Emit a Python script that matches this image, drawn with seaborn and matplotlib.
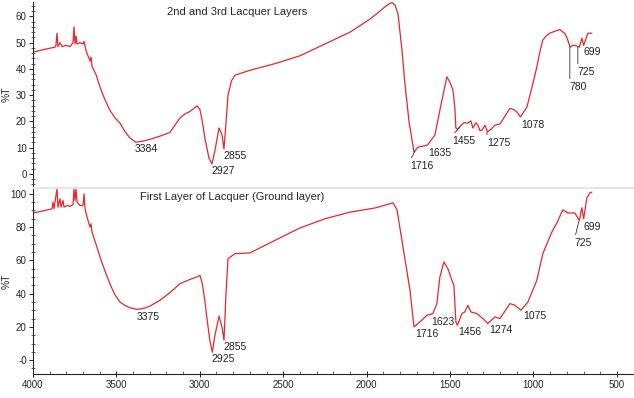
import numpy as np
import pandas as pd
import matplotlib
matplotlib.use('Agg')
import matplotlib.pyplot as plt
from matplotlib.ticker import MultipleLocator, FixedLocator, FixedFormatter
import seaborn as sns

# upper spectrum: 2nd and 3rd lacquer layers
wn_top = [4000, 3928, 3868, 3862, 3856, 3850, 3838, 3826, 3802, 3778, 3760, 3754, 3748,
          3742, 3736, 3718, 3700, 3694, 3682, 3670, 3658, 3652, 3646, 3620, 3598, 3570,
          3539, 3510, 3479, 3450, 3420, 3384, 3340, 3299, 3239, 3179, 3150, 3119, 3090,
          3059, 3035, 3017, 2999, 2985, 2969, 2945, 2927, 2909, 2885, 2867, 2855, 2843,
          2831, 2810, 2789, 2699, 2550, 2400, 2250, 2100, 1980, 1920, 1890, 1865, 1848,
          1830, 1812, 1788, 1771, 1746, 1716, 1693, 1663, 1635, 1591, 1549, 1519, 1501,
          1483, 1471, 1465, 1455, 1441, 1417, 1393, 1375, 1363, 1345, 1333, 1321, 1309,
          1291, 1275, 1255, 1231, 1201, 1171, 1141, 1117, 1099, 1078, 1039, 1009, 980,
          960, 944, 920, 902, 870, 842, 812, 800, 780, 764, 752, 725, 710, 699, 674, 650]
t_top = [46.4, 47.5, 48.3, 49.0, 53.6, 48.5, 50.0, 48.5, 49.0, 48.5, 50.0, 56.0, 49.5,
         52.5, 49.5, 50.0, 49.5, 50.5, 47.0, 45.0, 43.0, 44.5, 41.0, 37.5, 33.0, 28.5,
         24.3, 21.5, 19.4, 16.3, 13.8, 12.1, 12.5, 13.2, 14.4, 15.8, 18.5, 21.3, 22.8,
         23.8, 25.0, 25.9, 24.5, 20.0, 13.5, 6.0, 3.8, 9.0, 17.5, 15.0, 9.5, 19.4,
         30.0, 35.5, 37.6, 39.5, 42.0, 45.0, 49.5, 54.0, 59.0, 62.0, 63.7, 64.8, 65.3,
         64.3, 61.0, 47.0, 34.6, 20.0, 8.3, 10.2, 10.6, 11.0, 14.8, 28.0, 37.0, 35.0,
         32.0, 25.0, 17.5, 17.0, 18.0, 19.5, 19.4, 20.2, 17.5, 19.5, 18.6, 16.5, 16.7,
         18.5, 16.0, 17.0, 18.6, 19.0, 22.0, 25.0, 24.5, 23.6, 21.7, 25.5, 33.0, 40.7,
         47.0, 51.0, 52.8, 53.6, 54.4, 55.0, 53.5, 52.0, 48.3, 49.0, 49.0, 48.3, 51.7,
         49.0, 53.6, 53.6]

# lower spectrum: first (ground) layer
wn_bot = [4000, 3928, 3886, 3880, 3874, 3856, 3850, 3838, 3832, 3820, 3814, 3796, 3778,
          3760, 3754, 3748, 3742, 3736, 3718, 3700, 3694, 3688, 3676, 3670, 3658, 3652,
          3646, 3620, 3598, 3570, 3539, 3510, 3479, 3450, 3420, 3375, 3330, 3299, 3239,
          3180, 3119, 3060, 3017, 2999, 2985, 2970, 2957, 2940, 2925, 2909, 2885, 2867,
          2855, 2843, 2831, 2789, 2699, 2550, 2400, 2250, 2100, 1950, 1842, 1818, 1782,
          1740, 1716, 1681, 1639, 1603, 1579, 1561, 1537, 1513, 1489, 1477, 1465, 1456,
          1429, 1411, 1393, 1375, 1339, 1303, 1274, 1231, 1201, 1141, 1111, 1075, 1033,
          980, 944, 890, 860, 824, 794, 752, 725, 710, 699, 680, 662, 650]
t_bot = [88.5, 90.0, 91.0, 95.0, 91.0, 103.0, 92.0, 97.0, 92.0, 96.0, 92.0, 93.0, 92.5,
         93.5, 103.0, 96.0, 103.0, 95.0, 93.0, 93.0, 100.0, 91.0, 86.0, 84.0, 80.0, 82.0,
         77.0, 69.0, 62.0, 54.0, 46.0, 39.5, 35.0, 33.0, 31.5, 30.5, 31.3, 32.5, 36.0,
         40.5, 46.0, 48.5, 50.0, 51.0, 46.0, 36.0, 25.0, 12.0, 4.8, 15.0, 26.5, 20.0,
         12.0, 40.0, 61.0, 64.0, 64.5, 72.0, 79.5, 85.0, 89.0, 91.5, 94.6, 90.4, 68.0,
         42.0, 20.0, 22.9, 27.0, 28.0, 34.0, 50.0, 59.0, 55.0, 48.0, 45.0, 23.0, 21.0,
         28.0, 29.0, 33.0, 29.0, 28.0, 25.0, 22.0, 26.0, 25.0, 34.0, 33.0, 30.0, 35.0,
         48.0, 64.0, 77.0, 82.5, 90.4, 88.5, 88.5, 84.0, 91.6, 85.0, 97.6, 100.6, 101.0]

# peak labels: text, label x, label y, (point x, point y) for leader line or None
peaks_top = [('3384', 3389, 9.5, None), ('2927', 2933, 1.1, None), ('2855', 2861, 6.8, None),
             ('1716', 1741, 3.0, (1711, 8.6)), ('1635', 1633, 8.0, None),
             ('1455', 1489, 12.5, (1441, 17.9)), ('1275', 1279, 11.8, (1279, 16.0)),
             ('1078', 1075, 18.6, None), ('780', 782, 33.1, (782, 48.3)),
             ('725', 734, 38.8, (734, 48.3)), ('699', 698, 46.4, None)]
peaks_bot = [('3375', 3377, 25.9, None), ('2925', 2933, 0.6, None), ('2855', 2861, 7.8, None),
             ('1716', 1711, 15.7, None), ('1623', 1615, 22.9, None), ('1456', 1453, 16.9, None),
             ('1274', 1267, 18.1, None), ('1075', 1063, 26.5, None),
             ('725', 752, 70.5, (728, 83.5)), ('699', 698, 80.1, None)]

sns.set_style('ticks')
plt.rcParams['font.family'] = ['Liberation Sans', 'DejaVu Sans']
RED = '#e8262c'

fig = plt.figure(figsize=(6.34, 3.98), dpi=100)
ax1 = fig.add_axes([0.052, 0.530, 0.946, 0.465])
ax2 = fig.add_axes([0.052, 0.060, 0.946, 0.468])

df_top = pd.DataFrame({'wn': wn_top, 'T': t_top})
df_bot = pd.DataFrame({'wn': wn_bot, 'T': t_bot})
sns.lineplot(data=df_top, x='wn', y='T', ax=ax1, color=RED, lw=0.9, estimator=None, sort=False)
sns.lineplot(data=df_bot, x='wn', y='T', ax=ax2, color=RED, lw=0.9, estimator=None, sort=False)


def label_peaks(ax, peaks):
    for txt, x, y, pt in peaks:
        if pt is None:
            ax.text(x, y, txt, ha='left', va='center', fontsize=7.5, color='#222222')
        else:
            ax.annotate(txt, xy=pt, xytext=(x, y), ha='left', va='center', fontsize=7.5,
                        color='#222222',
                        arrowprops=dict(arrowstyle='-', lw=0.6, color='#333333',
                                        relpos=(0.0, 1.0), shrinkA=0, shrinkB=0))


label_peaks(ax1, peaks_top)
label_peaks(ax2, peaks_bot)

ax1.text(3197, 61.6, '2nd and 3rd Lacquer Layers', ha='left', va='center', fontsize=8)
ax2.text(3359, 98.2, 'First Layer of Lacquer (Ground layer)', ha='left', va='center', fontsize=8)

for ax in (ax1, ax2):
    ax.set_xlim(4000, 405)
    for s in ('top', 'right'):
        ax.spines[s].set_visible(False)
    ax.spines['left'].set_linewidth(0.8)
    ax.tick_params(axis='y', which='major', direction='out', length=3, width=0.7,
                   labelsize=7, pad=1.5)
    ax.tick_params(axis='y', which='minor', direction='inout', length=2.5, width=0.5)
    ax.set_ylabel('%T', fontsize=7.5)
    ax.yaxis.set_label_coords(-0.036, 0.5)

ax1.set_ylim(-5, 65.5)
ax1.yaxis.set_major_locator(MultipleLocator(10))
ax1.yaxis.set_minor_locator(MultipleLocator(2))
ax1.spines['bottom'].set_visible(False)
ax1.set_xticks([])
ax1.set_xlabel('')

ax2.set_ylim(-8.4, 103.6)
ax2.yaxis.set_major_locator(FixedLocator([0, 20, 40, 60, 80, 100]))
ax2.yaxis.set_major_formatter(FixedFormatter(['-0', '20', '40', '60', '80', '100']))
ax2.yaxis.set_minor_locator(MultipleLocator(5))
ax2.spines['top'].set_visible(True)
ax2.spines['top'].set_color('#e6e6e6')
ax2.spines['top'].set_linewidth(1.5)
ax2.spines['bottom'].set_linewidth(0.8)
ax2.xaxis.set_major_locator(MultipleLocator(500))
ax2.xaxis.set_minor_locator(MultipleLocator(100))
ax2.tick_params(axis='x', which='major', direction='inout', length=5, width=0.7,
                labelsize=7, pad=2)
ax2.tick_params(axis='x', which='minor', direction='in', length=2.5, width=0.5)
ax2.set_xlabel('Wavenumbers (cm-1)', fontsize=7.5, labelpad=6)

fig.savefig('out.png', dpi=100)
